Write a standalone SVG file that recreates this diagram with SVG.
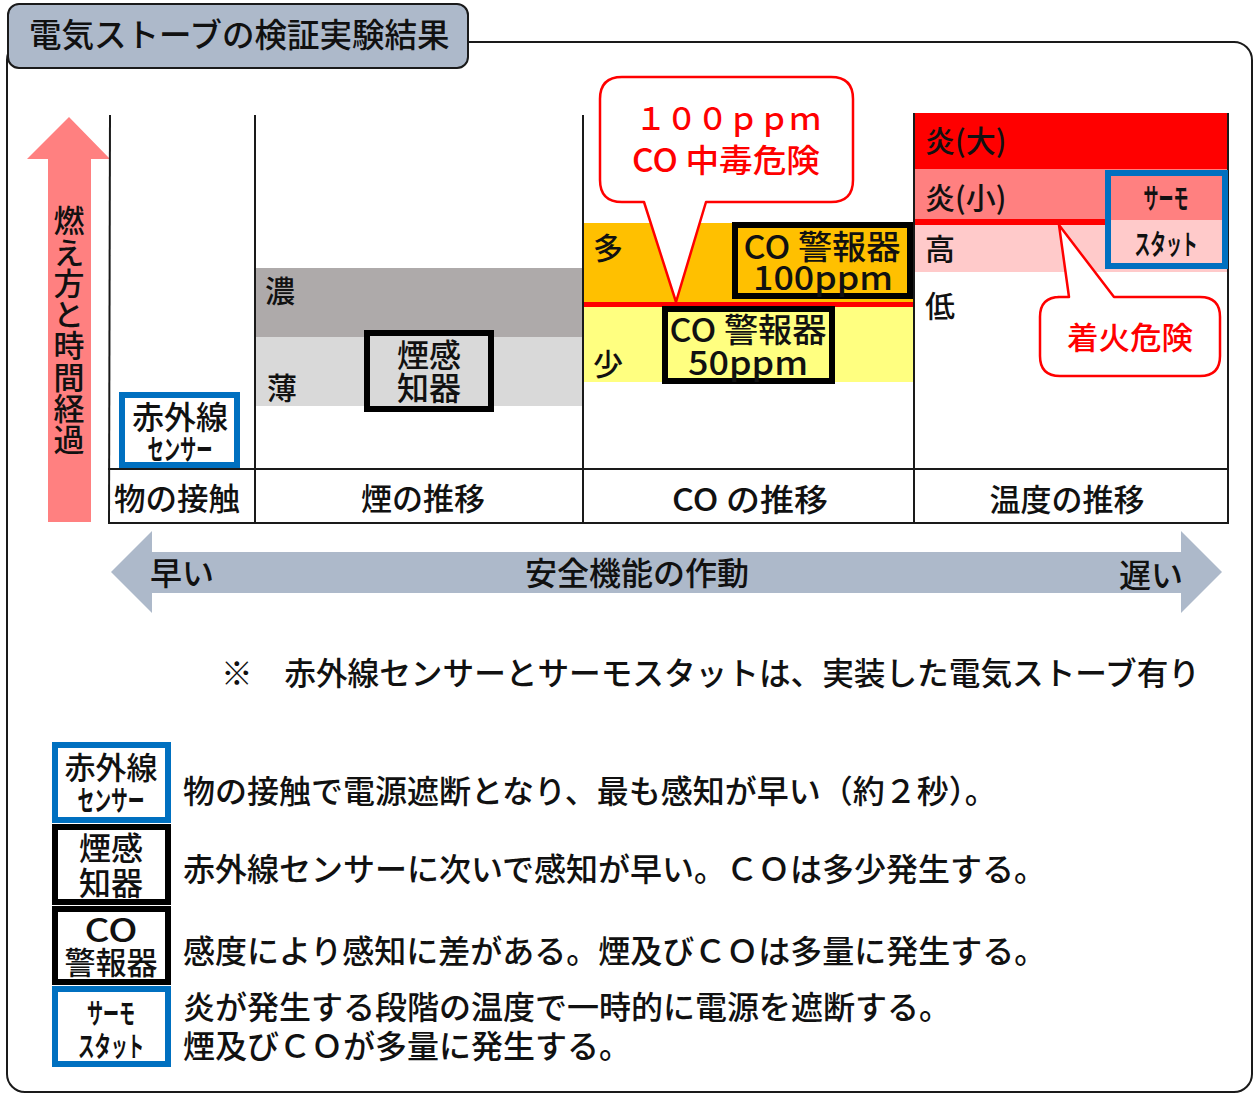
<svg xmlns="http://www.w3.org/2000/svg" width="1259" height="1093" viewBox="0 0 1259 1093">
<style>
text{font-family:"Noto Sans CJK JP","Noto Sans CJK SC",sans-serif;fill:#111;font-weight:500;}
.t31{font-size:31px;}
.t32{font-size:32px;}
.t30{font-size:30px;}
.red{fill:#ff0000;}
.mid{text-anchor:middle;}
.end{text-anchor:end;}
.ln{stroke:#1a1a1a;stroke-width:2;fill:none;}
.blu{fill:#fff;stroke:#0070c0;stroke-width:6;}
.cond{font-size:28px;font-weight:700;}
.desc{font-size:32px;}
</style>
<rect width="1259" height="1093" fill="#fff"/>
<g id="frame">
<rect x="7" y="42" width="1245" height="1050" rx="18" ry="18" fill="#fff" stroke="#1a1a1a" stroke-width="2"/>
</g>
<g id="title">
<rect x="8" y="4" width="460" height="64" rx="11" ry="11" fill="#adb9ca" stroke="#1a1a1a" stroke-width="2"/>
<text x="29" y="47" style="font-size:32.5px">電気ストーブの検証実験結果</text>
</g>
<g id="time-arrow">
<polygon points="69,117 110,159 91,159 91,522 48,522 48,159 27,159" fill="#ff8080"/>
<text x="69" y="205" writing-mode="vertical-rl" style="font-size:31px;letter-spacing:0.25px">燃え方と時間経過</text>
</g>
<g id="smoke-bands">
<rect x="255" y="268" width="328" height="69" fill="#aeaaaa"/>
<rect x="255" y="337" width="328" height="69" fill="#d9d9d9"/>
<text x="265" y="302" class="t30">濃</text>
<text x="267" y="399" class="t30">薄</text>
</g>
<g id="co-bands">
<rect x="583" y="223" width="331" height="80" fill="#ffc000"/>
<rect x="583" y="304" width="331" height="78" fill="#ffff80"/>
<rect x="583" y="302" width="331" height="5" fill="#ff0000"/>
<text x="593" y="259" class="t30">多</text>
<text x="593" y="375" class="t30">少</text>
</g>
<g id="temp-bands">
<rect x="914" y="113" width="314" height="56" fill="#ff0000"/>
<rect x="914" y="169" width="314" height="51" fill="#ff8080"/>
<rect x="914" y="220" width="314" height="52" fill="#ffcaca"/>
<rect x="914" y="219" width="191" height="6" fill="#ff0000"/>
<text x="925" y="152" class="t30">炎(大)</text>
<text x="925" y="209" class="t30">炎(小)</text>
<text x="925" y="260" class="t30">高</text>
<text x="925" y="317" class="t30">低</text>
</g>
<g id="connectors">
<line class="ln" x1="110" y1="115" x2="109" y2="524"/>
<line class="ln" x1="255" y1="115" x2="255" y2="524"/>
<line class="ln" x1="583" y1="115" x2="583" y2="524"/>
<line class="ln" x1="914" y1="113" x2="914" y2="524"/>
<line class="ln" x1="1228" y1="113" x2="1228" y2="524"/>
<line class="ln" x1="108" y1="469" x2="1228" y2="469"/>
<line class="ln" x1="108" y1="523" x2="1228" y2="523"/>
</g>
<g id="row-labels">
<text x="177" y="510" class="t31 mid" textLength="126" lengthAdjust="spacingAndGlyphs">物の接触</text>
<text x="423" y="510" class="t31 mid">煙の推移</text>
<text x="750" y="511" class="t31 mid" textLength="156" lengthAdjust="spacingAndGlyphs">CO の推移</text>
<text x="1067" y="511" class="t31 mid">温度の推移</text>
</g>
<g id="node-infrared">
<rect class="blu" x="122" y="395" width="115" height="70"/>
<text x="180" y="429" class="t32 mid">赤外線</text>
<text x="180" y="460" class="cond mid" textLength="65" lengthAdjust="spacingAndGlyphs">センサー</text>
</g>
<g id="node-smoke">
<rect x="367" y="333" width="124" height="76" fill="#d9d9d9" stroke="#000" stroke-width="6"/>
<text x="429" y="367" class="t32 mid">煙感</text>
<text x="429" y="400" class="t32 mid">知器</text>
</g>
<g id="node-co100">
<rect x="735" y="225" width="175" height="71" fill="#ffc000" stroke="#000" stroke-width="6"/>
<text x="822" y="259" class="mid" style="font-size:33px" textLength="157" lengthAdjust="spacingAndGlyphs">CO 警報器</text>
<text x="823" y="290" class="mid" style="font-size:33px" textLength="140" lengthAdjust="spacingAndGlyphs">100ppm</text>
</g>
<g id="node-co50">
<rect x="665" y="309" width="167" height="72" fill="#ffff80" stroke="#000" stroke-width="6"/>
<text x="748" y="342" class="mid" style="font-size:33px" textLength="157" lengthAdjust="spacingAndGlyphs">CO 警報器</text>
<text x="748" y="375" class="mid" style="font-size:33px" textLength="120" lengthAdjust="spacingAndGlyphs">50ppm</text>
</g>
<g id="node-thermo">
<rect x="1108" y="173" width="117" height="93" fill="none" stroke="#0070c0" stroke-width="6"/>
<text x="1166" y="209" class="cond mid" textLength="45" lengthAdjust="spacingAndGlyphs">サーモ</text>
<text x="1166" y="255" class="cond mid" textLength="63" lengthAdjust="spacingAndGlyphs">スタット</text>
</g>
<g id="callout-co">
<path d="M622,77 H831 Q853,77 853,99 V180 Q853,202 831,202 H706 L676,302 L644,202 H622 Q600,202 600,180 V99 Q600,77 622,77 Z" fill="#fff" stroke="#ff0000" stroke-width="2.5" stroke-linejoin="round"/>
<text x="728" y="130" class="t31 mid red" textLength="185" lengthAdjust="spacingAndGlyphs">１００ｐｐｍ</text>
<text x="726" y="172" class="t32 mid red" textLength="188" lengthAdjust="spacingAndGlyphs">CO 中毒危険</text>
</g>
<g id="callout-fire">
<path d="M1058,297 H1069 L1059,225 L1114,297 H1200 Q1220,297 1220,317 V356 Q1220,376 1200,376 H1060 Q1040,376 1040,356 V317 Q1040,297 1060,297 Z" fill="#fff" stroke="#ff0000" stroke-width="2.5" stroke-linejoin="round"/>
<text x="1130" y="349" class="t31 mid red" textLength="126" lengthAdjust="spacingAndGlyphs">着火危険</text>
</g>
<g id="speed-arrow">
<polygon points="111,572 152,531 152,552 1181,552 1181,531 1222,572 1181,613 1181,593 152,593 152,613" fill="#adb9ca"/>
<text x="150" y="585" class="t32">早い</text>
<text x="637" y="585" class="t32 mid">安全機能の作動</text>
<text x="1183" y="587" class="t32 end">遅い</text>
</g>
<g id="note">
<text x="221" y="685" style="font-size:31.5px" textLength="979" lengthAdjust="spacingAndGlyphs">※　赤外線センサーとサーモスタットは、実装した電気ストーブ有り</text>
</g>
<g id="legend-infrared">
<rect class="blu" x="55" y="745" width="113" height="75"/>
<text x="111" y="779" class="t31 mid">赤外線</text>
<text x="111" y="811" class="cond mid" textLength="67" lengthAdjust="spacingAndGlyphs">センサー</text>
<text x="183" y="803" class="desc">物の接触で電源遮断となり、最も感知が早い（約２秒）。</text>
</g>
<g id="legend-smoke">
<rect x="55" y="827" width="113" height="75" fill="#fff" stroke="#000" stroke-width="6"/>
<text x="111" y="860" class="t32 mid">煙感</text>
<text x="111" y="895" class="t32 mid">知器</text>
<text x="183" y="881" class="desc">赤外線センサーに次いで感知が早い。ＣＯは多少発生する。</text>
</g>
<g id="legend-co">
<rect x="55" y="909" width="113" height="73" fill="#fff" stroke="#000" stroke-width="6"/>
<text x="111" y="942" class="t32 mid" textLength="53" lengthAdjust="spacingAndGlyphs">CO</text>
<text x="111" y="974" class="t31 mid">警報器</text>
<text x="183" y="963" class="desc">感度により感知に差がある。煙及びＣＯは多量に発生する。</text>
</g>
<g id="legend-thermo">
<rect class="blu" x="55" y="989" width="113" height="75"/>
<text x="111" y="1024" class="cond mid" textLength="48" lengthAdjust="spacingAndGlyphs">サーモ</text>
<text x="111" y="1057" class="cond mid" textLength="66" lengthAdjust="spacingAndGlyphs">スタット</text>
<text x="183" y="1019" class="desc">炎が発生する段階の温度で一時的に電源を遮断する。</text>
<text x="183" y="1058" class="desc">煙及びＣＯが多量に発生する。</text>
</g>
</svg>
